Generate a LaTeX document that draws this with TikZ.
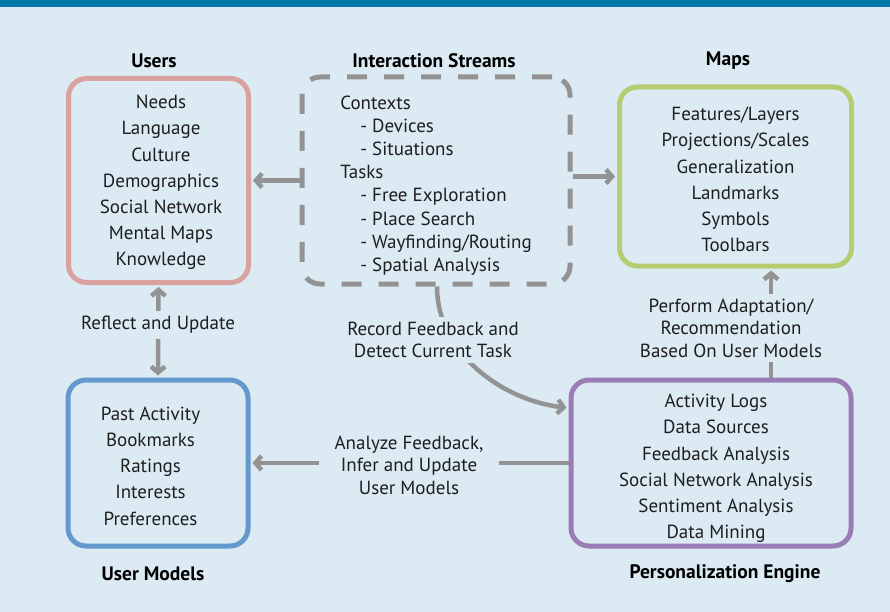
\documentclass[tikz,border=0pt]{standalone}
\usepackage{fontspec}
\setmainfont{PT Sans}
\usetikzlibrary{arrows.meta, positioning}

\definecolor{panelbg}{RGB}{219,234,243}
\definecolor{bandblue}{RGB}{0,120,167}
\definecolor{userpink}{RGB}{217,161,160}
\definecolor{mapgreen}{RGB}{181,204,112}
\definecolor{modelblue}{RGB}{99,153,204}
\definecolor{enginepurple}{RGB}{154,125,180}
\definecolor{flowgray}{RGB}{147,147,147}
\definecolor{inkdark}{RGB}{30,30,30}

\begin{document}
\begin{tikzpicture}[x=1pt, y=-1pt,
    box/.style={line width=5pt, rounded corners=18pt},
    items/.style={align=center, text=inkdark, font=\fontsize{19}{26.2}\selectfont},
    title/.style={font=\fontsize{19.5}{22}\selectfont\bfseries, text=black},
    flow/.style={draw=flowgray, line width=4.5pt, -{Straight Barb[length=6pt,width=14pt]}, shorten >=2pt},
    gaplabel/.style={fill=panelbg, align=center, text=inkdark, inner xsep=14pt, inner ysep=5pt,
        font=\fontsize{19}{22.5}\selectfont}]
    % backdrop and heading band
    \fill[panelbg] (0,0) rectangle (890,612);
    \fill[bandblue] (0,0) rectangle (890,7);
    \useasboundingbox (0,0) rectangle (890,612);

    % Users
    \node[box, draw=userpink, minimum width=180, minimum height=204] (users) at (158.5,180.5) {};
    \node[items] (userslist) at (161,182.5)
        {Needs\\Language\\Culture\\Demographics\\Social Network\\Mental Maps\\Knowledge};
    \node[title] (userstitle) at (154,61) {Users};

    % Interaction Streams, dashed
    \node[box, draw=flowgray, dash pattern=on 20pt off 17pt, minimum width=268, minimum height=207] (streams) at (436,180.5) {};
    \node[items, align=left, font=\fontsize{19}{23.2}\selectfont] (streamslist) at (436,185.5)
        {Contexts\\\hspace{20pt}- Devices\\\hspace{20pt}- Situations\\Tasks\\\hspace{20pt}- Free Exploration\\
         \hspace{20pt}- Place Search\\\hspace{20pt}- Wayfinding/Routing\\\hspace{20pt}- Spatial Analysis};
    \node[title] (streamstitle) at (434,61) {Interaction Streams};

    % Maps
    \node[box, draw=mapgreen, minimum width=232, minimum height=179] (maps) at (735.5,176.5) {};
    \node[items] (mapslist) at (735.5,179.5)
        {Features/Layers\\Projections/Scales\\Generalization\\Landmarks\\Symbols\\Toolbars};
    \node[title] (mapstitle) at (728,61) {Maps};

    % User Models
    \node[box, draw=modelblue, minimum width=180, minimum height=166] (models) at (158,463) {};
    \node[items] (modelslist) at (150.5,466)
        {Past Activity\\Bookmarks\\Ratings\\Interests\\Preferences};
    \node[title] (modelstitle) at (153,574) {User Models};

    % Personalization Engine
    \node[box, draw=enginepurple, minimum width=280, minimum height=166] (engine) at (711,463) {};
    \node[items] (enginelist) at (716,468.5)
        {Activity Logs\\Data Sources\\Feedback Analysis\\Social Network Analysis\\Sentiment Analysis\\Data Mining};
    \node[title] (enginetitle) at (725,574) {Personalization Engine};

    % connectors
    \draw[flow] (streams.west) -- (users.east);
    \draw[flow] (streams.east |- maps.west) -- (maps.west);
    \draw[flow] ([xshift=1pt]streams.south) .. controls +(0,66) and +(-67,-8) .. ([yshift=55pt]engine.west);
    \draw[flow] ([xshift=60pt]engine.north) -- ([xshift=60pt]engine.north |- maps.south);
    \draw[flow, {Straight Barb[length=6pt,width=14pt]}-{Straight Barb[length=6pt,width=14pt]}, shorten <=2pt]
        (users.south) -- (models.north);
    \draw[flow] (engine.west) -- (models.east);

    % labels sit on top of the connectors
    \node[gaplabel] (record) at (433,340) {Record Feedback and\\Detect Current Task};
    \node[gaplabel] (adapt) at (731,328) {Perform Adaptation/\\Recommendation\\Based On User Models};
    \node[gaplabel] (reflect) at (158,325) {Reflect and Update};
    \node[gaplabel, inner xsep=16pt] (analyze) at (409,465) {Analyze Feedback,\\Infer and Update\\User Models};
\end{tikzpicture}
\end{document}
